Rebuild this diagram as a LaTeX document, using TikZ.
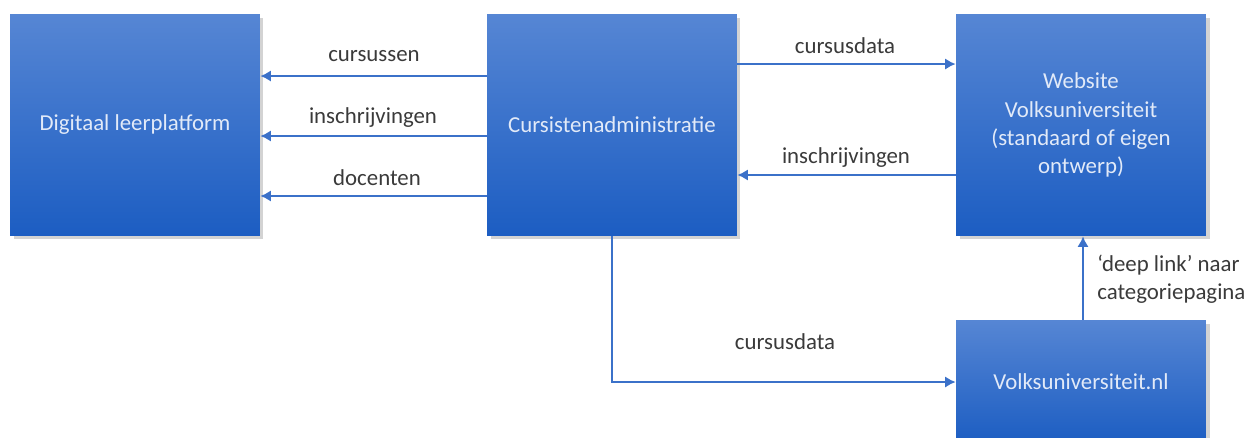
\documentclass[tikz,border=0pt]{standalone}
\usepackage{fontspec}
\setmainfont{Carlito}
\usepackage{tikz}
\usetikzlibrary{shadows,arrows.meta}

\definecolor{boxtop}{HTML}{5686D4}
\definecolor{boxbot}{HTML}{1C5DC2}
\definecolor{boxtxt}{HTML}{E2EAF8}
\definecolor{arrowblue}{HTML}{3B71C9}
\definecolor{labeltxt}{HTML}{3A3A3A}

\tikzset{
  blok/.style={rectangle, top color=boxtop, bottom color=boxbot,
    text=boxtxt, minimum width=5cm, minimum height=4.44cm,
    align=center, font=\fontsize{13}{16}\selectfont,
    drop shadow={shadow xshift=2pt, shadow yshift=-2pt, opacity=0.35}},
  flow/.style={draw=arrowblue, line width=1.6pt, -{Latex[length=6pt,width=6.5pt]}},
  lbl/.style={text=labeltxt, font=\fontsize{13}{16}\selectfont, inner sep=0pt}
}

\begin{document}
\begin{tikzpicture}[x=0.02cm,y=-0.02cm]
\useasboundingbox (0,0) rectangle (1248,437);
\node[blok] (lms) at (135,125) {Digitaal leerplatform};
  \node[blok] (admin) at (612,125) {Cursistenadministratie};
  \node[blok] (site) at (1081,125) {Website\\Volksuniversiteit\\(standaard of eigen\\ontwerp)};
  \node[blok, minimum height=2.48cm] (vu) at (1081,382) {Volksuniversiteit.nl};
  % naar het leerplatform
  \draw[flow] ([yshift=0.98cm]admin.west) -- ([yshift=0.98cm]lms.east);
  \node[lbl] (l1) at (374,56) {cursussen};
  \draw[flow] ([yshift=-0.22cm]admin.west) -- ([yshift=-0.22cm]lms.east);
  \node[lbl] (l2) at (373,118) {inschrijvingen};
  \draw[flow] ([yshift=-1.42cm]admin.west) -- ([yshift=-1.42cm]lms.east);
  \node[lbl] (l3) at (377,178) {docenten};
  % website
  \draw[flow] ([yshift=1.22cm]admin.east) -- ([yshift=1.22cm]site.west);
  \node[lbl] (l4) at (845,46) {cursusdata};
  \draw[flow] ([yshift=-1.0cm]site.west) -- ([yshift=-1.0cm]admin.east);
  \node[lbl] (l5) at (846,158) {inschrijvingen};
  % volksuniversiteit.nl
  \draw[flow] (admin.south) |- (vu.west);
  \node[lbl] (l6) at (785,342) {cursusdata};
  \draw[flow] ([xshift=0.04cm]vu.north) -- ([xshift=0.04cm]site.south);
  \node[lbl, align=left, anchor=west] (l7) at (1097,279) {‘deep link’ naar\\categoriepagina};
\end{tikzpicture}
\end{document}
